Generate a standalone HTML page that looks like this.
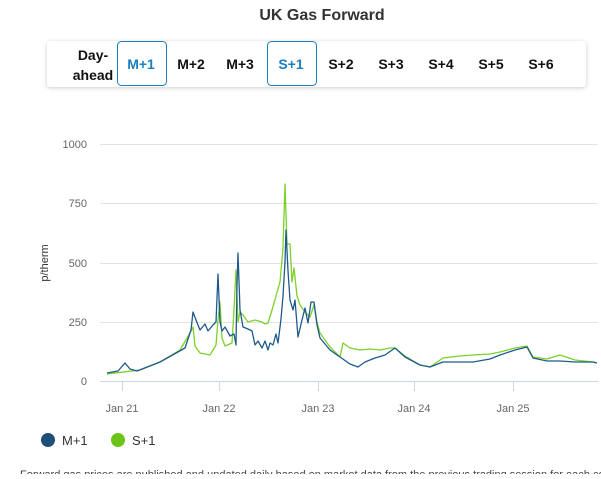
<!DOCTYPE html>
<html><head><meta charset="utf-8"><style>
body{margin:0;background:#fff;font-family:"Liberation Sans",sans-serif;overflow:hidden;}
</style></head><body>
<svg width="601" height="474" xmlns="http://www.w3.org/2000/svg" font-family="Liberation Sans, sans-serif">
<text x="322" y="20" text-anchor="middle" font-size="16" font-weight="bold" fill="#333">UK Gas Forward</text>
<defs><filter id="sh" x="-5%" y="-20%" width="110%" height="150%"><feDropShadow dx="0" dy="1" stdDeviation="2" flood-color="#000" flood-opacity="0.2"/></filter></defs>
<rect x="47" y="41" width="539" height="46" rx="3" fill="#fff" filter="url(#sh)"/>
<rect x="117.5" y="41.5" width="49" height="44" rx="4" fill="#fff" stroke="#1b7fc0"/>
<rect x="267.5" y="41.5" width="49" height="44" rx="4" fill="#fff" stroke="#1b7fc0"/>
<g font-size="14" font-weight="bold" text-anchor="middle" fill="#111">
<text x="93" y="60">Day-</text><text x="93" y="80">ahead</text>
<text x="141" y="69" fill="#1b7fc0">M+1</text>
<text x="191" y="69">M+2</text><text x="240" y="69">M+3</text>
<text x="291" y="69" fill="#1b7fc0">S+1</text>
<text x="341" y="69">S+2</text><text x="391" y="69">S+3</text><text x="441" y="69">S+4</text><text x="491" y="69">S+5</text><text x="541" y="69">S+6</text>
</g>
<g stroke="#e3e3e3" stroke-width="1">
<line x1="100" y1="144.5" x2="598" y2="144.5"/><line x1="100" y1="203.5" x2="598" y2="203.5"/>
<line x1="100" y1="263.5" x2="598" y2="263.5"/><line x1="100" y1="322.5" x2="598" y2="322.5"/>
</g>
<line x1="100" y1="381.5" x2="598" y2="381.5" stroke="#ccd6eb"/>
<g stroke="#ccd6eb"><line x1="122.5" y1="381" x2="122.5" y2="391"/><line x1="219.5" y1="381" x2="219.5" y2="391"/><line x1="318.5" y1="381" x2="318.5" y2="391"/><line x1="414.5" y1="381" x2="414.5" y2="391"/><line x1="513.5" y1="381" x2="513.5" y2="391"/></g>
<g font-size="11" fill="#666" text-anchor="end">
<text x="87" y="148">1000</text><text x="87" y="207">750</text><text x="87" y="267">500</text><text x="87" y="326">250</text><text x="87" y="385">0</text>
</g>
<g font-size="11" fill="#666" text-anchor="middle">
<text x="122" y="412">Jan 21</text><text x="219" y="412">Jan 22</text><text x="318" y="412">Jan 23</text><text x="414" y="412">Jan 24</text><text x="513" y="412">Jan 25</text>
</g>
<text transform="translate(48,263) rotate(-90)" font-size="11" fill="#333" text-anchor="middle">p/therm</text>
<polyline fill="none" stroke="#7cd12a" stroke-width="1.3" stroke-linejoin="round" points="107,374 140,370 160,362 180,350 190,333 193,327 195,346 200,353 210,355 216,345 218,320 220,302 222,338 225,346 232,343 234,310 236,270 238,322 240,312 243,315 248,322 255,320 262,322 265,324 268,323 272,310 276,296 280,282 283,248 285,184 287,244 290,244 292,282 294,268 297,296 300,305 305,312 310,317 314,305 317,322 320,333 330,347 340,357 343,343 350,348 360,350 370,349 380,350 390,348 395,348 405,356 420,365 430,367 443,358 460,356 473,355 490,354 500,352 515,348 527,346 533,357 547,359 560,355 575,360 593,362 597,363"/>
<polyline fill="none" stroke="#1f5a8c" stroke-width="1.3" stroke-linejoin="round" points="107,373 118,371 125,363 130,369 137,371 160,362 185,348 191,330 193,312 196,320 200,330 205,324 208,331 213,325 216,322 218,274 220,322 222,331 225,327 230,336 234,334 236,345 237,285 238,253 240,310 243,327 248,329 252,331 255,345 258,341 262,348 265,341 268,350 270,343 273,345 276,334 278,343 281,319 283,296 285,262 286,230 288,271 290,300 293,310 295,300 298,337 302,320 305,308 308,323 311,302 314,302 317,325 320,338 330,350 340,357 350,364 358,367 365,362 375,358 385,355 395,348 405,357 420,365 430,367 443,362 460,362 473,362 490,359 500,355 515,350 527,347 533,358 547,361 560,361 575,362 593,362 597,363"/>
<circle cx="48" cy="440" r="7" fill="#1f4e79"/><text x="62" y="445" font-size="13" fill="#333">M+1</text>
<circle cx="118" cy="440" r="7" fill="#6cc417"/><text x="132" y="445" font-size="13" fill="#333">S+1</text>
<text x="20" y="478" font-size="11" fill="#444">Forward gas prices are published and updated daily based on market data from the previous trading session for each contract period</text>
</svg>
</body></html>
